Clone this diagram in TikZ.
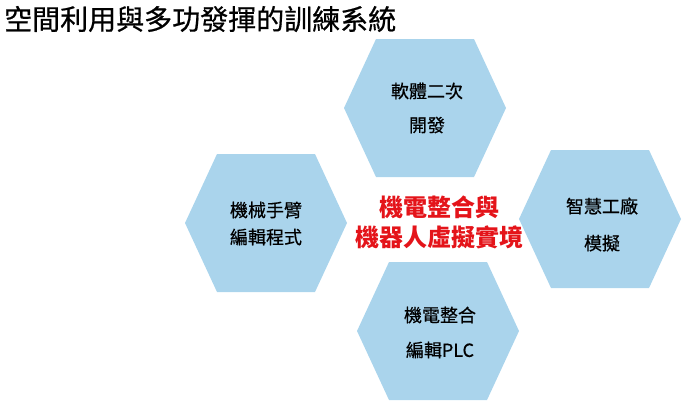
\documentclass[tikz,border=0pt]{standalone}
\usepackage{fontspec}
\usepackage{tikz}
\newfontfamily\cjk{Noto Sans CJK TC}
\newfontfamily\cjkmid[FakeBold=0.6]{Noto Sans CJK TC}
\definecolor{hexblue}{RGB}{170,212,236}
\definecolor{hotred}{RGB}{228,20,26}

\tikzset{
  hexfill/.style={fill=hexblue},
  hexlabel/.style={align=center, inner sep=0pt, text=black,
    font=\cjkmid\fontsize{18}{27}\selectfont},
  corelabel/.style={align=center, inner sep=0pt, text=hotred,
    font=\cjk\bfseries\fontsize{24}{30}\selectfont}
}

% one light blue cell, centred at (#1,#2)
\newcommand{\hexcell}[2]{%
  \fill[hexfill] (#1-81,#2) -- (#1-49,#2-69) -- (#1+49,#2-69)
    -- (#1+81,#2) -- (#1+49,#2+69) -- (#1-49,#2+69) -- cycle;}

\begin{document}
\begin{tikzpicture}[x=1pt,y=-1pt]
\useasboundingbox (0,0) rectangle (700,405);

\node[anchor=west, inner sep=0pt, font=\cjkmid\fontsize{28}{28}\selectfont] (title) at (4,19) {空間利用與多功發揮的訓練系統};

\hexcell{425}{108}
\hexcell{266}{223}
\hexcell{600}{219}
\hexcell{438}{331}

\node[hexlabel] (soft) at (427,108) {軟體二次\\[7pt]開發};
\node[hexlabel] (arm) at (266,223.5) {機械手臂\\編輯程式};
\node[hexlabel] (factory) at (602,224.5) {智慧工廠\\[10pt]模擬};
\node[hexlabel] (plc) at (440,332.5) {機電整合\\[8pt]編輯PLC};

\node[corelabel] (core) at (439,222) {機電整合與\\機器人虛擬實境};

\end{tikzpicture}
\end{document}
